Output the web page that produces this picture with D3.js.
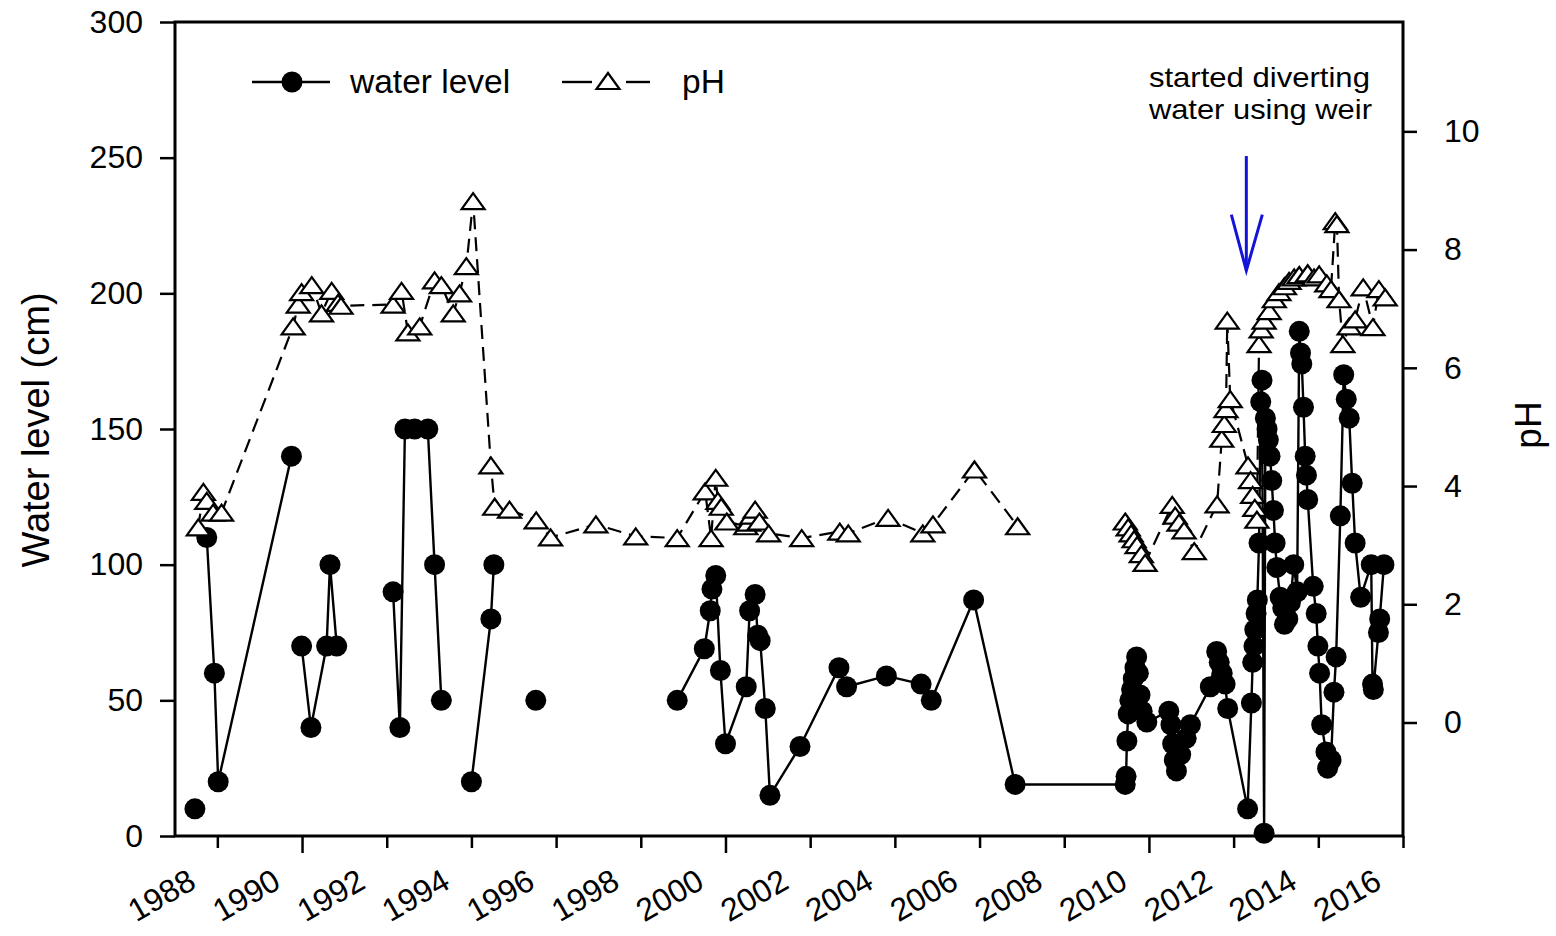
<!DOCTYPE html>
<html><head><meta charset="utf-8">
<script src="https://d3js.org/d3.v7.min.js"></script>
<style>
body{margin:0;background:#fff}
svg{display:block}
text{font-family:"Liberation Sans",Arial,Helvetica,sans-serif;fill:#000}
</style>
</head><body>
<svg id="chart" width="1556" height="936"></svg>
<script>
// ---------------- data ----------------
// null entries mark breaks in the connecting line
const wlYear = [
 1987.47, null,
 1987.75, 1987.93, 1988.02, 1989.75, null,
 1989.99, 1990.21, 1990.58, 1990.66, 1990.82, null,
 1992.15, 1992.31, 1992.43, 1992.66, 1992.97, 1993.13, 1993.29, null,
 1994.00, 1994.46, 1994.53, null,
 1995.52, null,
 1998.86, 1999.50, 1999.64, 1999.68, 1999.77, 1999.88, 2000.00, 2000.49, 2000.57, 2000.70, 2000.76, 2000.82, 2000.94, 2001.05,
 2001.76, 2002.68, 2002.86, 2003.80, 2004.62, 2004.86, 2005.86, 2006.84,
 2009.44, 2009.46, 2009.48, 2009.51, 2009.55, 2009.59, 2009.63, 2009.67, 2009.71, 2009.75, 2009.79, 2009.84, 2009.95,
 2010.47, 2010.52, 2010.56, 2010.60, 2010.65, 2010.75, 2010.88, 2010.98,
 2011.45, 2011.60, 2011.66, 2011.73, 2011.80, 2011.86,
 2012.33, 2012.42, 2012.45, 2012.48, 2012.50, 2012.53, 2012.56, 2012.60, 2012.64, 2012.67, 2012.72,
 2012.75, 2012.79, 2012.82, 2012.86, 2012.90, 2012.94, 2012.98, 2013.02, 2013.10, 2013.16, 2013.20, 2013.28, 2013.34, 2013.42, 2013.50,
 2013.55, 2013.58, 2013.61, 2013.65, 2013.69, 2013.72, 2013.75, 2013.88, 2013.95, 2013.99, 2014.03, 2014.08, 2014.18, 2014.22, 2014.30,
 2014.37, 2014.42, 2014.52, 2014.60, 2014.66, 2014.73, 2014.80, 2014.87, 2015.00, 2015.25, 2015.28, 2015.30, 2015.42, 2015.45, 2015.55
];
const wlLevel = [
 10, null,
 110, 60, 20, 140, null,
 70, 40, 70, 100, 70, null,
 90, 40, 150, 150, 150, 100, 50, null,
 20, 80, 100, null,
 50, null,
 50, 69, 83, 91, 96, 61, 34, 55, 83, 89, 74, 72, 47, 15,
 33, 62, 55, 59, 56, 50, 87, 19,
 19, 22, 35, 45, 50, 54, 58, 62, 66, 60, 52, 46, 42,
 46, 41, 34, 28, 24, 30, 36, 41,
 55, 68, 64, 60, 56, 47,
 10, 49, 64, 70, 76, 82, 87, 108, 160, 168, 1,
 154, 150, 146, 140, 131, 120, 108, 99, 88, 84, 78, 80, 86, 100, 90,
 186, 178, 174, 158, 140, 133, 124, 92, 82, 70, 60, 41, 31, 25, 28,
 53, 66, 118, 170, 161, 154, 130, 108, 88, 100, 56, 54, 75, 80, 100
];

const phYear = [
 1987.55, 1987.67, 1987.75, 1987.90, 1988.10,
 1989.79, 1989.91, 1989.99, 1990.23, 1990.46, 1990.70, 1990.85, 1990.92,
 1992.15, 1992.35, 1992.50, 1992.78, 1993.13, 1993.29, 1993.57, 1993.72, 1993.88, 1994.04,
 1994.46, 1994.55, 1994.90, 1995.53, 1995.87, 1996.94, 1997.88, 1998.86,
 1999.52, 1999.66, 1999.77, 1999.82, 1999.90, 2000.03, 2000.48, 2000.55, 2000.62, 2000.70, 2000.80, 2001.02,
 2001.80, 2002.70, 2002.90, 2003.84, 2004.66, 2004.90, 2005.88, 2006.90, null,
 2009.44, 2009.51, 2009.58, 2009.65, 2009.72, 2009.82, 2009.91,
 2010.55, 2010.62, 2010.71, 2010.83, 2011.07,
 2011.61, 2011.72, 2011.78, 2011.82, 2011.85, 2011.92,
 2012.34, 2012.40, 2012.45, 2012.50, 2012.55,
 2012.60, 2012.65, 2012.72, 2012.84, 2012.96, 2013.07, 2013.20, 2013.31, 2013.43, 2013.55, 2013.75, 2013.90, 2014.02,
 2014.20, 2014.30, 2014.40, 2014.44, 2014.49, 2014.58, 2014.73, 2014.87, 2015.06, 2015.29, 2015.43, 2015.58
];
const phValue = [
 3.3, 3.9, 3.75, 3.55, 3.55,
 6.7, 7.07, 7.28, 7.4, 6.92, 7.3, 7.1, 7.05,
 7.07, 7.3, 6.6, 6.7, 7.48, 7.4, 6.92, 7.26, 7.72, 8.82,
 4.35, 3.65, 3.6, 3.42, 3.13, 3.35, 3.15, 3.12,
 3.91, 3.12, 4.14, 3.75, 3.65, 3.4, 3.32, 3.38, 3.5, 3.6, 3.4, 3.2,
 3.12, 3.23, 3.2, 3.46, 3.2, 3.35, 4.28, 3.32, null,
 3.4, 3.3, 3.2, 3.1, 3.0, 2.85, 2.7,
 3.68, 3.5, 3.38, 3.25, 2.9,
 3.69, 4.8, 5.05, 5.3, 6.8, 5.47,
 4.35, 4.1, 3.85, 3.63, 3.43,
 6.4, 6.65, 6.8, 6.96, 7.16, 7.28, 7.38, 7.47, 7.53, 7.57, 7.6, 7.53, 7.58,
 7.43, 7.33, 8.48, 8.43, 7.16, 6.4, 6.7, 6.82, 7.36, 6.69, 7.33, 7.19
];

const yearTicks = [1988,1990,1992,1994,1996,1998,2000,2002,2004,2006,2008,2010,2012,2014,2016];
const levelTicks = [0,50,100,150,200,250,300];
const phTicks = [0,2,4,6,8,10];
const legendLabels = ["water level", "pH"];
const noteLines = ["started diverting", "water using weir"];

// ---------------- chart ----------------
const svg = d3.select("#chart");
const x = d3.scaleLinear().domain([1987, 2016]).range([175, 1403]);
const yW = d3.scaleLinear().domain([0, 300]).range([836, 22]);
const yP = d3.scaleLinear().domain([-1.92, 11.85]).range([836, 22]);

const wl = wlYear.map((t, i) => ({t, v: wlLevel[i]}));
const ph = phYear.map((t, i) => ({t, v: phValue[i]}));

// axes
const gL = svg.append("g").attr("transform", "translate(175,0)")
  .call(d3.axisLeft(yW).tickValues(levelTicks).tickSize(15).tickSizeOuter(0).tickPadding(17));
const gR = svg.append("g").attr("transform", "translate(1403,0)")
  .call(d3.axisRight(yP).tickValues(phTicks).tickSize(14).tickSizeOuter(0).tickPadding(27));
const gB = svg.append("g").attr("transform", "translate(0,836)")
  .call(d3.axisBottom(x).tickValues(yearTicks).tickFormat(d3.format("d")).tickSize(12).tickSizeOuter(0));

[gL, gR, gB].forEach(g => {
  g.select(".domain").remove();
  g.selectAll(".tick line").attr("stroke", "#000").attr("stroke-width", 2.5);
  g.selectAll(".tick text").style("font-size", "32px");
});
gB.selectAll(".tick line").attr("y2", d => d % 10 === 0 ? 17 : 12);
gB.selectAll(".tick text")
  .attr("x", 0).attr("y", 0).attr("dy", 0)
  .attr("text-anchor", "end")
  .attr("transform", "translate(-20,51) rotate(-30)")
  .style("font-size", "32px");

// frame
svg.append("rect").attr("x", x(1987)).attr("y", yW(300))
  .attr("width", x(2016) - x(1987)).attr("height", yW(0) - yW(300))
  .attr("fill", "none").attr("stroke", "#000").attr("stroke-width", 3);

// water level series
const lineW = d3.line().defined(d => d.v != null).x(d => x(d.t)).y(d => yW(d.v));
svg.append("path").datum(wl).attr("d", lineW)
  .attr("fill", "none").attr("stroke", "#000").attr("stroke-width", 2.4);
svg.append("g").selectAll("circle").data(wl.filter(d => d.v != null)).join("circle")
  .attr("cx", d => x(d.t)).attr("cy", d => yW(d.v)).attr("r", 10.5).attr("fill", "#000");

// pH series
const tri = "M0,-8 L11.5,8 L-11.5,8 Z";
const lineP = d3.line().defined(d => d.v != null).x(d => x(d.t)).y(d => yP(d.v));
svg.append("path").datum(ph).attr("d", lineP)
  .attr("fill", "none").attr("stroke", "#000").attr("stroke-width", 2.2)
  .attr("stroke-dasharray", "14,8");
svg.append("g").selectAll("path").data(ph.filter(d => d.v != null)).join("path")
  .attr("d", tri).attr("transform", d => `translate(${x(d.t)},${yP(d.v)})`)
  .attr("fill", "#fff").attr("stroke", "#000").attr("stroke-width", 2.2);

// axis titles
svg.append("text").attr("transform", "translate(49,430) rotate(-90)")
  .attr("text-anchor", "middle").style("font-size", "38px").text("Water level (cm)");
svg.append("text").attr("transform", "translate(1541,425) rotate(-90)")
  .attr("text-anchor", "middle").style("font-size", "37px").text("pH");

// legend
const lg = svg.append("g");
lg.append("line").attr("x1", 252).attr("x2", 330).attr("y1", 82).attr("y2", 82)
  .attr("stroke", "#000").attr("stroke-width", 2.4);
lg.append("circle").attr("cx", 292).attr("cy", 82).attr("r", 10.5).attr("fill", "#000");
lg.append("text").attr("x", 350).attr("y", 93).style("font-size", "33.5px").text(legendLabels[0]);
lg.append("line").attr("x1", 562).attr("x2", 592).attr("y1", 82).attr("y2", 82)
  .attr("stroke", "#000").attr("stroke-width", 2.4);
lg.append("line").attr("x1", 626).attr("x2", 650).attr("y1", 82).attr("y2", 82)
  .attr("stroke", "#000").attr("stroke-width", 2.4);
lg.append("path").attr("d", tri).attr("transform", "translate(608,81)")
  .attr("fill", "#fff").attr("stroke", "#000").attr("stroke-width", 2.2);
lg.append("text").attr("x", 682).attr("y", 93).style("font-size", "33.5px").text(legendLabels[1]);

// annotation
const ann = svg.append("g");
ann.selectAll("text").data(noteLines).join("text")
  .attr("x", x(2010)).attr("y", (d, i) => yW(275.9 - i * 11.8))
  .attr("textLength", (d, i) => i === 0 ? 221 : 223)
  .attr("lengthAdjust", "spacingAndGlyphs")
  .style("font-size", "28px").text(d => d);
const ax = x(2012.3), aTop = yW(250.6), aTip = yW(208.4);
ann.append("line").attr("x1", ax).attr("x2", ax).attr("y1", aTop).attr("y2", aTip)
  .attr("stroke", "#1414d8").attr("stroke-width", 3);
ann.append("path").attr("d", `M${ax-15},${aTip-56} L${ax},${aTip} L${ax+16},${aTip-56}`)
  .attr("fill", "none").attr("stroke", "#1414d8").attr("stroke-width", 3);
</script>
</body></html>
